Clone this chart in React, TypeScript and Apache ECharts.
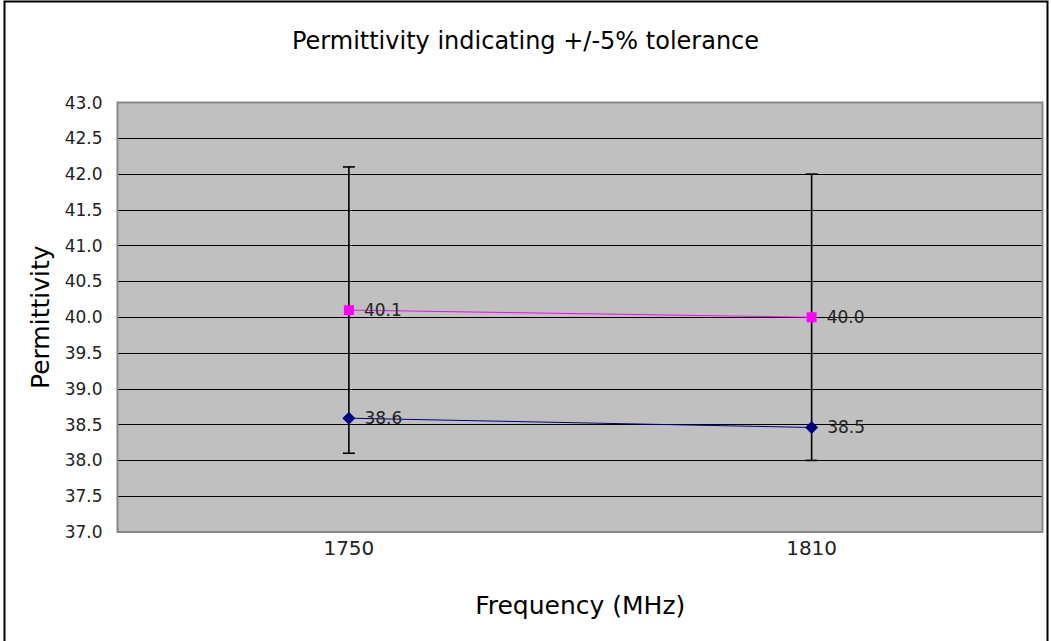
import React, { useEffect, useRef } from "react";
import * as echarts from "echarts";

const categories = ["1750", "1810"];
const targetValues = [40.1, 40.0];
const measuredValues = [38.59, 38.46];
const errLow = [38.1, 38.0];
const errHigh = [42.1, 42.0];
const yMin = 37;
const yMax = 43;
const yStep = 0.5;

export default function App() {
  const ref = useRef<HTMLDivElement>(null);
  useEffect(() => {
    document.body.style.margin = "0";
    const chart = echarts.init(ref.current!, null, { renderer: "svg" });
    const font = "DejaVu Sans";
    chart.setOption({
      animation: false,
      backgroundColor: "#ffffff",
      title: {
        text: "Permittivity indicating +/-5% tolerance",
        left: "center",
        top: 24,
        textStyle: { fontFamily: font, fontSize: 24, fontWeight: "normal", color: "#000" },
      },
      graphic: [
        {
          type: "rect",
          shape: { x: 4.5, y: 1.5, width: 1043, height: 645 },
          style: { fill: "none", stroke: "#000", lineWidth: 2 },
          silent: true,
          z: 100,
        },
        {
          type: "rect",
          shape: { x: 117.5, y: 102.5, width: 925, height: 429.5 },
          style: { fill: "none", stroke: "#888", lineWidth: 2 },
          silent: true,
          z: 100,
        },
      ],
      grid: {
        left: 117.5,
        right: 8,
        top: 102.5,
        bottom: 109,
        show: true,
        backgroundColor: "#C0C0C0",
        borderWidth: 0,
      },
      xAxis: {
        type: "category",
        data: categories,
        boundaryGap: true,
        name: "Frequency (MHz)",
        nameLocation: "middle",
        nameGap: 61,
        nameTextStyle: { fontFamily: font, fontSize: 25, color: "#000" },
        axisLine: { show: false },
        axisTick: { show: false },
        axisLabel: { fontFamily: font, fontSize: 20, color: "#222", margin: 6 },
        splitLine: { show: false },
      },
      yAxis: {
        type: "value",
        min: yMin,
        max: yMax,
        interval: yStep,
        name: "Permittivity",
        nameLocation: "middle",
        nameGap: 65,
        nameTextStyle: { fontFamily: font, fontSize: 25, color: "#000" },
        axisLine: { show: false },
        axisTick: { show: false },
        axisLabel: {
          fontFamily: font,
          fontSize: 17,
          color: "#222",
          margin: 15,
          formatter: (v: number) => v.toFixed(1),
        },
        splitLine: { show: true, lineStyle: { color: "#000", width: 1 } },
      },
      series: [
        {
          type: "custom",
          name: "tolerance",
          data: categories.map((c, i) => [i, errLow[i], errHigh[i]]),
          z: 3,
          renderItem: (params: any, api: any) => {
            const lo = api.coord([api.value(0), api.value(1)]);
            const hi = api.coord([api.value(0), api.value(2)]);
            const w = 6;
            const style = { stroke: "#000", lineWidth: 1.6 };
            return {
              type: "group",
              children: [
                { type: "line", shape: { x1: hi[0], y1: hi[1], x2: lo[0], y2: lo[1] }, style },
                { type: "line", shape: { x1: hi[0] - w, y1: hi[1], x2: hi[0] + w, y2: hi[1] }, style },
                { type: "line", shape: { x1: lo[0] - w, y1: lo[1], x2: lo[0] + w, y2: lo[1] }, style },
              ],
            };
          },
        },
        {
          type: "line",
          name: "Target",
          data: targetValues,
          symbol: "rect",
          symbolSize: 10,
          z: 4,
          lineStyle: { color: "#FF00FF", width: 1 },
          itemStyle: { color: "#FF00FF" },
          label: {
            show: true,
            position: "right",
            distance: 10,
            fontFamily: font,
            fontSize: 17,
            color: "#222",
            formatter: (p: any) => Number(p.value).toFixed(1),
          },
        },
        {
          type: "line",
          name: "Measured",
          data: measuredValues,
          symbol: "diamond",
          symbolSize: 13,
          z: 4,
          lineStyle: { color: "#000080", width: 1 },
          itemStyle: { color: "#000080" },
          label: {
            show: true,
            position: "right",
            distance: 9,
            fontFamily: font,
            fontSize: 17,
            color: "#222",
            formatter: (p: any) => Number(p.value).toFixed(1),
          },
        },
      ],
    });
    return () => chart.dispose();
  }, []);
  return <div ref={ref} style={{ width: 1051, height: 641 }} />;
}
